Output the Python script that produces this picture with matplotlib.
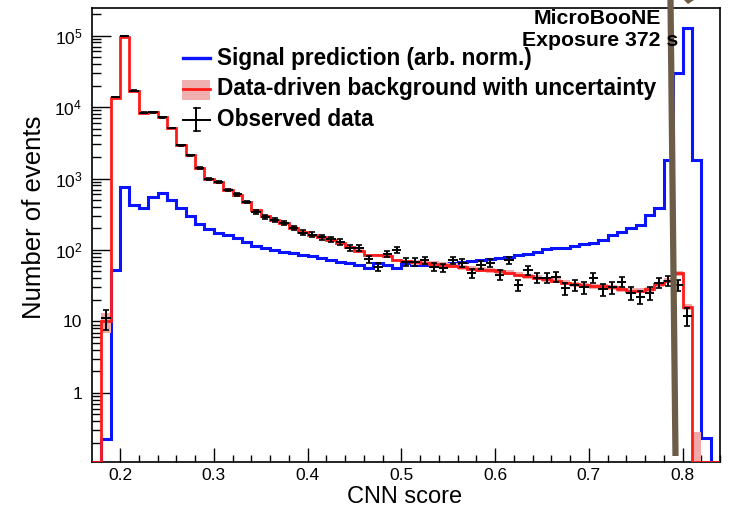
import numpy as np
import matplotlib
matplotlib.use("Agg")
import matplotlib.pyplot as plt
from matplotlib.lines import Line2D
from matplotlib.patches import Rectangle, Polygon
from matplotlib.ticker import FixedLocator, FixedFormatter, LogLocator, MultipleLocator, NullFormatter

plt.rcParams['font.family'] = ['Liberation Sans', 'DejaVu Sans']
plt.rcParams['mathtext.fontset'] = 'custom'
plt.rcParams['mathtext.rm'] = 'Liberation Sans'
plt.rcParams['mathtext.default'] = 'regular'

# binning of the CNN score (0.01 wide bins from 0.17 up to 0.84)
bin_lo = 0.17
bin_width = 0.01
n_bins = 67

observed = [0, 11, 13800, 98000, 17000, 8300, 8400, 7200, 5100, 2900,
            2100, 1400, 1000, 890, 690, 600, 470, 340, 290, 263,
            240, 203, 175, 163, 152, 142, 130, 107, 107, 75,
            58, 88, 100, 68, 68, 72, 58, 56, 72, 66,
            48, 62, 66, 45, 72, 32, 52, 41, 41, 42,
            29, 32, 30, 41, 28, 30, 36, 25, 22, 25,
            35, 37, 32, 12, 0, 0, 0]

background = [0, 10, 13500, 97000, 17000, 8300, 8400, 7200, 5100, 2900,
              2100, 1400, 1000, 880, 700, 590, 470, 360, 300, 265,
              235, 205, 178, 160, 150, 138, 125, 110, 98, 85,
              85, 82, 72, 70, 68, 66, 64, 62, 60, 57,
              55, 53, 52, 50, 48, 45, 43, 41, 39, 37,
              35, 33, 32, 31, 31, 30, 28, 27, 27, 28,
              33, 37, 47, 16, 0.08, 0, 0]

# relative uncertainty on the data-driven background
background_rel_unc = [0, 0.3, 0.02, 0.02, 0.02, 0.02, 0.02, 0.02, 0.02, 0.02,
                      0.02, 0.02, 0.02, 0.02, 0.04, 0.04, 0.04, 0.04, 0.04, 0.04,
                      0.04, 0.04, 0.04, 0.04, 0.04, 0.04, 0.04, 0.04, 0.04, 0.04,
                      0.04, 0.04, 0.04, 0.04, 0.08, 0.08, 0.08, 0.08, 0.08, 0.08,
                      0.08, 0.08, 0.08, 0.08, 0.08, 0.08, 0.08, 0.08, 0.08, 0.08,
                      0.08, 0.08, 0.08, 0.08, 0.08, 0.08, 0.08, 0.08, 0.08, 0.08,
                      0.08, 0.08, 0.08, 0.1, 2.5, 0, 0]

signal = [0, 0.23, 52, 760, 425, 385, 550, 630, 500, 385,
          300, 230, 195, 175, 162, 147, 130, 115, 107, 100,
          94, 90, 85, 82, 77, 72, 68, 66, 62, 56,
          66, 62, 56, 66, 62, 62, 62, 64, 66, 68,
          70, 72, 74, 77, 80, 85, 88, 95, 103, 105,
          107, 115, 120, 125, 140, 162, 178, 200, 225, 310,
          390, 1800, 30000, 128000, 1800, 0.235, 0]

y_ticks = [1, 10, 100, 1000, 10000, 100000]
y_ticklabels = ['1', '10', '$10^{2}$', '$10^{3}$', '$10^{4}$', '$10^{5}$']
x_ticks = [0.2, 0.3, 0.4, 0.5, 0.6, 0.7, 0.8]

ylo, yhi = 0.108, 2.43e5

edges = bin_lo + bin_width * np.arange(n_bins + 1)
centers = 0.5 * (edges[:-1] + edges[1:])
observed = np.array(observed, dtype=float)
background = np.array(background, dtype=float)
signal = np.array(signal, dtype=float)
bkg_err = background * np.array(background_rel_unc)

W, H = 738, 512
fig = plt.figure(figsize=(W / 100, H / 100), dpi=100)
ax = fig.add_axes([92 / W, 1 - 462 / H, (720 - 92) / W, (462 - 8) / H])
ax.set_yscale('log')

# histograms (empty bins sit on the lower edge like in ROOT)
ax.stairs(np.maximum(signal, ylo), edges, color='#0a14ff', lw=2.2, zorder=2)
ax.stairs(np.maximum(background + bkg_err, ylo), edges,
          baseline=np.maximum(background - bkg_err, ylo),
          fill=True, color='#f0a8a8', lw=0, zorder=3)
ax.stairs(np.maximum(background, ylo), edges, color='#ff1a1a', lw=2.0, zorder=4)

has_data = observed > 0
ax.errorbar(centers[has_data], observed[has_data], xerr=bin_width / 2,
            fmt='none', ecolor='black', elinewidth=1.4, zorder=5)
ax.errorbar(centers[has_data], observed[has_data], yerr=np.sqrt(observed[has_data]),
            fmt='none', ecolor='black', elinewidth=1.4, capsize=2, capthick=1.2, zorder=5)

ax.set_xlim(bin_lo, 0.84)
ax.set_ylim(ylo, yhi)

ax.yaxis.set_major_locator(FixedLocator(y_ticks))
ax.yaxis.set_major_formatter(FixedFormatter(y_ticklabels))
ax.yaxis.set_minor_locator(LogLocator(base=10, subs=np.arange(2, 10), numticks=20))
ax.yaxis.set_minor_formatter(NullFormatter())
ax.xaxis.set_major_locator(FixedLocator(x_ticks))
ax.xaxis.set_minor_locator(MultipleLocator(0.02))

ax.tick_params(axis='both', which='both', direction='in', top=False, right=False,
               labelsize=12.5, width=1.0)
ax.tick_params(axis='y', which='major', length=13.5, pad=7)
ax.tick_params(axis='y', which='minor', length=6.8)
ax.tick_params(axis='x', which='major', length=9.8, pad=4)
ax.tick_params(axis='x', which='minor', length=4.9)
for s in ax.spines.values():
    s.set_linewidth(1.2)


def px(x, y):
    return x / W, 1 - y / H


# axis titles
fig.text(*px(405, 497), 'CNN score', fontsize=17, ha='center', va='center')
fig.text(*px(34, 217), 'Number of events', fontsize=18.5, rotation=90,
         ha='center', va='center')

# legend drawn by hand in figure pixels
fs_leg = 16.3
fig.add_artist(Line2D([183 / W, 210 / W], [1 - 58 / H] * 2, color='#0a14ff', lw=2.4))
fig.add_artist(Rectangle(px(182, 100), 28 / W, 20 / H, color='#f0b0b0', lw=0))
fig.add_artist(Line2D([183 / W, 210 / W], [1 - 89 / H] * 2, color='#ff1a1a', lw=2.0))
fig.add_artist(Line2D([183 / W, 210 / W], [1 - 120 / H] * 2, color='black', lw=1.4))
fig.add_artist(Line2D([196.5 / W, 196.5 / W], [1 - 108 / H, 1 - 131 / H], color='black', lw=1.4))
for yy in (108, 131):
    fig.add_artist(Line2D([193.5 / W, 199.5 / W], [1 - yy / H] * 2, color='black', lw=1.2))
for yy, txt in [(58, 'Signal prediction (arb. norm.)'),
                (89, 'Data-driven background with uncertainty'),
                (120, 'Observed data')]:
    fig.text(217 / W, 1 - yy / H, txt, fontsize=fs_leg, fontweight='bold',
             ha='left', va='center')

fig.text(*px(597, 19), 'MicroBooNE', fontsize=15.3, fontweight='bold', ha='center', va='center')
fig.text(*px(600, 41), 'Exposure 372 s', fontsize=15.3, fontweight='bold', ha='center', va='center')

# pen stroke across the right side of the plot
fig.add_artist(Line2D([670.5 / W, 675.5 / W], [1.0, 1 - 456 / H], color='#6d5d48', lw=4.5,
                      solid_capstyle='butt'))
fig.add_artist(Polygon([px(684, 0), px(694, 0), px(688, 4)], closed=True,
                       color='#6d5d48', lw=0))

fig.savefig('out.png', dpi=100)
